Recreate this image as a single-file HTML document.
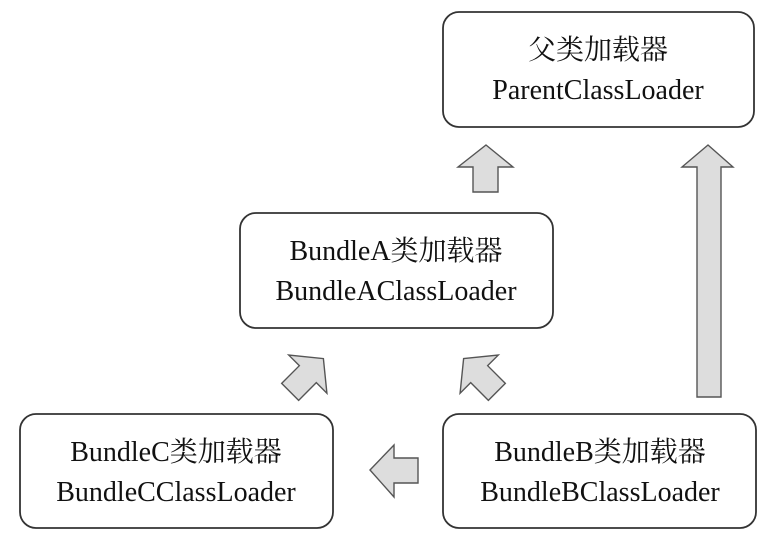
<!DOCTYPE html>
<html><head><meta charset="utf-8"><style>
html,body{margin:0;padding:0;background:#fff;}
svg text{font-family:"Liberation Serif","Noto Serif CJK SC",serif;font-size:28px;fill:#111;text-anchor:middle;}
</style></head><body>
<svg width="771" height="542" viewBox="0 0 771 542" xmlns="http://www.w3.org/2000/svg">
<g fill="#fff" stroke="#333" stroke-width="1.8">
<rect x="443" y="12" width="311" height="115" rx="16"/>
<rect x="240" y="213" width="313" height="115" rx="16"/>
<rect x="20" y="414" width="313" height="114" rx="16"/>
<rect x="443" y="414" width="313" height="114" rx="16"/>
</g>
<g fill="#ddd" stroke="#555" stroke-width="1.4">
<polygon points="486,145 513,167 498,167 498,192 473,192 473,167 458,167"/>
<polygon points="708,145 733,167 721,167 721,397 697,397 697,167 682,167"/>
<polygon points="370,470 394,445 394,458 418,458 418,483 394,483 394,497"/>
<g transform="translate(305,377) rotate(45)"><polygon points="0,-26 27,-4 12,-4 12,21 -12,21 -12,-4 -27,-4"/></g>
<g transform="translate(482,377) rotate(-45)"><polygon points="0,-26 27,-4 12,-4 12,21 -12,21 -12,-4 -27,-4"/></g>
</g>
<text x="598" y="59">父类加载器</text>
<text x="598" y="99">ParentClassLoader</text>
<text x="396" y="260">BundleA类加载器</text>
<text x="396" y="300">BundleAClassLoader</text>
<text x="176" y="461">BundleC类加载器</text>
<text x="176" y="501">BundleCClassLoader</text>
<text x="600" y="461">BundleB类加载器</text>
<text x="600" y="501">BundleBClassLoader</text>
</svg>
</body></html>
